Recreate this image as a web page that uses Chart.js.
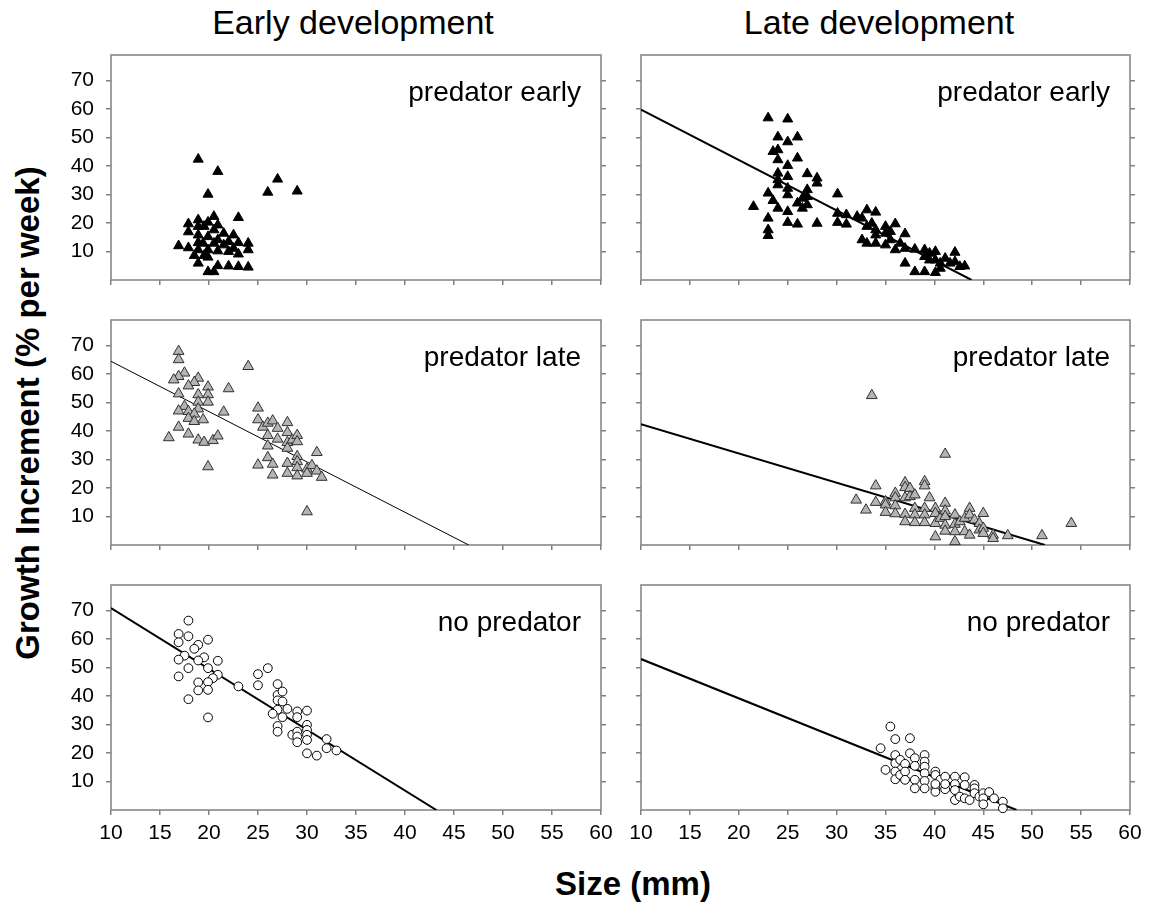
<!DOCTYPE html>
<html>
<head>
<meta charset="utf-8">
<script src="https://cdn.jsdelivr.net/npm/chart.js@4.4.1/dist/chart.umd.min.js"></script>
<style>
  body { margin: 0; background: #fff; width: 1164px; height: 904px; position: relative; overflow: hidden;
         font-family: 'Liberation Sans', Arial, sans-serif; }
  canvas { position: absolute; }
  .t { position: absolute; white-space: nowrap; color: #000; transform: translate(-50%, -50%); }
</style>
</head>
<body>
<div class="t" style="left:353px; top:22px; font-size:34px;">Early development</div>
<div class="t" style="left:879px; top:22px; font-size:34px;">Late development</div>
<div class="t" style="left:28px; top:413px; font-size:33px; font-weight:bold; transform: translate(-50%, -50%) rotate(-90deg);">Growth Increment (% per week)</div>
<div class="t" style="left:633px; top:884px; font-size:33px; font-weight:bold;">Size (mm)</div>

<script>
// axis ticks
const xTicks = [10, 15, 20, 25, 30, 35, 40, 45, 50, 55, 60];
const yTicks = [10, 20, 30, 40, 50, 60, 70];

// early development, predator early (black triangles)
const earlyPredEarlyX = [18.9, 20.9, 19.9, 26.0, 27.0, 29.0, 23.0, 16.9, 17.9, 17.9, 17.9, 18.9, 18.9, 18.9, 18.9, 18.9, 18.5, 18.9, 19.5, 19.5, 19.9, 19.9, 19.9, 19.9, 19.9, 20.5, 20.5, 20.5, 20.5, 20.9, 20.9, 20.9, 20.9, 21.5, 21.5, 22.0, 22.0, 22.0, 22.5, 22.5, 23.0, 23.0, 23.0, 24.0, 24.0, 24.0, 19.4];
const earlyPredEarlyY = [42.4, 38.1, 30.1, 30.8, 35.4, 31.2, 21.9, 12.0, 19.7, 16.9, 11.3, 21.1, 18.8, 15.8, 13.1, 10.6, 8.6, 5.9, 18.8, 8.6, 20.3, 15.2, 10.6, 8.0, 2.9, 22.3, 17.6, 12.9, 2.9, 19.3, 14.1, 10.2, 5.0, 16.4, 12.3, 13.5, 10.0, 4.9, 15.8, 11.1, 13.1, 9.1, 4.7, 12.9, 10.6, 4.5, 12.9];

// late development, predator early (black triangles) + fit
const latePredEarlyX = [23.0, 25.0, 24.0, 26.0, 25.0, 23.5, 24.0, 24.0, 26.0, 25.0, 24.0, 25.0, 24.0, 24.0, 27.0, 28.0, 28.0, 25.0, 25.0, 27.0, 27.0, 26.5, 26.0, 26.5, 27.0, 23.0, 23.5, 24.0, 21.5, 23.0, 23.0, 23.0, 25.0, 25.0, 26.0, 28.0, 30.1, 30.1, 30.1, 31.0, 31.0, 32.1, 32.6, 33.1, 34.0, 33.1, 33.6, 32.6, 33.1, 34.0, 34.0, 34.0, 35.0, 35.0, 35.0, 36.0, 35.5, 35.5, 36.0, 37.0, 37.0, 37.0, 36.5, 38.0, 38.0, 39.0, 39.0, 39.0, 39.5, 40.1, 40.1, 40.1, 40.6, 41.1, 41.6, 42.1, 42.1, 42.6, 43.1, 39.5, 40.6];
const latePredEarlyY = [56.9, 56.5, 50.2, 50.2, 48.5, 45.1, 45.7, 42.2, 42.8, 40.2, 37.5, 36.3, 35.2, 33.4, 37.3, 35.8, 34.0, 32.2, 29.9, 31.7, 29.3, 28.7, 27.0, 25.2, 26.4, 30.5, 27.9, 25.2, 25.8, 21.7, 17.6, 15.6, 24.0, 20.2, 19.6, 19.9, 30.2, 23.4, 20.2, 22.9, 19.6, 22.3, 21.7, 24.6, 23.8, 18.8, 19.9, 14.1, 12.9, 17.6, 15.8, 12.9, 18.8, 16.4, 12.3, 19.7, 17.0, 14.1, 10.6, 16.2, 11.1, 5.9, 12.9, 10.8, 2.9, 10.6, 8.2, 2.9, 9.4, 10.0, 7.0, 2.6, 5.9, 7.6, 5.9, 9.7, 6.4, 4.7, 4.9, 7.0, 4.1];
const latePredEarlyFitX = [10, 43.8];
const latePredEarlyFitY = [59.8, 0];

// early development, predator late (grey triangles) + fit
const earlyPredLateX = [16.9, 16.9, 17.5, 16.9, 16.4, 18.9, 18.5, 17.9, 19.9, 19.9, 19.9, 18.9, 18.9, 16.9, 22.0, 24.0, 17.5, 16.9, 17.9, 18.9, 18.5, 17.9, 18.5, 19.4, 21.5, 16.9, 17.9, 15.9, 18.9, 19.5, 20.4, 20.9, 19.9, 25.0, 25.0, 25.5, 26.0, 26.5, 27.0, 26.0, 27.0, 28.0, 28.0, 28.0, 28.0, 28.5, 29.0, 29.0, 26.0, 26.0, 25.0, 26.5, 26.5, 28.0, 28.0, 29.0, 29.0, 29.0, 29.0, 30.0, 30.0, 30.5, 31.0, 31.0, 31.5, 30.0];
const earlyPredLateY = [68.0, 65.1, 60.4, 59.2, 58.0, 58.6, 57.1, 55.9, 55.5, 52.8, 50.2, 52.8, 50.2, 53.1, 54.9, 62.7, 48.7, 47.1, 46.9, 47.8, 46.0, 44.5, 43.4, 44.0, 46.7, 41.4, 39.0, 37.7, 36.9, 36.1, 36.7, 38.3, 27.5, 48.1, 44.0, 41.4, 42.8, 43.6, 41.0, 38.5, 37.2, 43.0, 39.5, 36.0, 34.0, 36.9, 38.5, 36.3, 34.8, 30.7, 28.1, 28.4, 24.6, 28.7, 25.2, 31.1, 29.3, 27.2, 24.3, 26.7, 25.2, 27.9, 32.5, 26.0, 23.8, 11.7];
const earlyPredLateFitX = [10, 46.5];
const earlyPredLateFitY = [64.5, 0];

// late development, predator late (grey triangles) + fit
const latePredLateX = [33.6, 41.1, 32.0, 33.0, 34.0, 34.0, 35.0, 35.0, 35.0, 36.0, 36.0, 36.0, 36.0, 37.0, 37.0, 37.0, 37.0, 37.0, 37.5, 37.5, 38.0, 38.0, 38.0, 38.0, 39.0, 39.0, 39.0, 39.0, 39.0, 39.5, 40.1, 40.1, 40.1, 40.1, 40.6, 41.1, 41.1, 41.1, 41.1, 41.1, 42.1, 42.1, 42.1, 42.1, 42.6, 43.1, 43.1, 43.6, 43.6, 43.6, 44.1, 44.6, 44.6, 45.0, 45.0, 45.0, 46.0, 46.0, 47.5, 51.0, 54.0];
const latePredLateY = [52.5, 31.9, 15.8, 12.3, 20.8, 15.0, 15.2, 14.1, 11.5, 18.2, 16.6, 13.8, 11.0, 21.9, 20.2, 16.6, 10.8, 8.2, 19.9, 17.0, 17.6, 12.9, 10.6, 7.9, 22.3, 20.8, 12.9, 10.6, 7.9, 16.6, 12.9, 11.1, 7.6, 2.9, 9.4, 14.7, 12.0, 10.0, 7.0, 4.9, 10.6, 7.3, 4.7, 1.2, 8.2, 9.4, 4.7, 12.9, 10.6, 3.5, 8.8, 7.6, 5.3, 11.1, 5.9, 4.1, 3.5, 2.3, 3.3, 3.3, 7.6];
const latePredLateFitX = [10, 51.3];
const latePredLateFitY = [42.4, 0];

// early development, no predator (open circles) + fit
const earlyNoPredX = [17.9, 16.9, 16.9, 17.9, 18.9, 18.5, 19.9, 17.5, 16.9, 19.5, 18.9, 20.9, 17.9, 19.9, 20.9, 20.4, 16.9, 18.9, 19.9, 18.9, 19.9, 17.9, 19.9, 23.0, 25.0, 25.0, 26.0, 27.0, 27.0, 27.5, 27.0, 27.5, 28.0, 27.0, 26.5, 27.5, 29.0, 30.0, 29.0, 30.0, 27.0, 27.0, 28.5, 29.0, 29.0, 29.0, 30.0, 30.0, 30.0, 30.0, 31.0, 32.0, 32.0, 33.0];
const earlyNoPredY = [66.5, 61.8, 58.9, 61.0, 58.0, 56.6, 59.8, 54.2, 52.8, 53.6, 52.5, 52.4, 49.8, 49.8, 47.5, 46.3, 46.9, 44.8, 44.9, 42.0, 42.2, 38.9, 32.5, 43.4, 47.7, 43.8, 49.8, 44.2, 40.4, 41.6, 38.5, 38.1, 35.5, 35.2, 33.8, 32.6, 34.6, 34.9, 32.6, 29.9, 29.5, 27.5, 26.4, 27.5, 25.8, 23.8, 28.1, 26.4, 24.6, 19.9, 19.1, 24.9, 21.7, 20.9];
const earlyNoPredFitX = [10, 43.2];
const earlyNoPredFitY = [70.9, 0];

// late development, no predator (open circles) + fit
const lateNoPredX = [35.5, 36.0, 37.5, 34.5, 35.0, 36.0, 36.0, 36.0, 36.0, 36.5, 36.5, 37.0, 37.0, 37.0, 37.5, 38.0, 38.0, 38.0, 38.0, 39.0, 39.0, 39.0, 39.0, 39.0, 39.0, 40.1, 40.1, 40.1, 40.1, 40.6, 41.1, 41.1, 42.1, 42.1, 42.1, 42.1, 42.6, 43.1, 43.1, 43.1, 43.6, 44.1, 44.1, 44.1, 44.6, 45.0, 45.0, 45.0, 45.6, 46.1, 47.0, 47.0, 40.1, 41.1];
const lateNoPredY = [29.3, 24.9, 25.2, 21.7, 14.1, 19.3, 16.4, 13.5, 10.8, 17.6, 12.3, 16.2, 13.5, 10.6, 19.9, 18.2, 15.5, 10.6, 7.6, 19.3, 17.0, 15.2, 12.9, 10.2, 7.6, 13.5, 12.3, 7.6, 6.4, 10.6, 11.7, 7.3, 11.7, 9.1, 7.0, 3.5, 4.7, 11.5, 8.8, 4.1, 3.5, 8.8, 7.6, 5.9, 4.7, 5.9, 4.1, 2.0, 6.3, 4.1, 2.9, 0.6, 9.1, 9.1];
const lateNoPredFitX = [10, 48.4];
const lateNoPredFitY = [53.0, 0];

const FONT = "'Liberation Sans', Arial, sans-serif";
const FRAME = '#808080';

const pts = (xs, ys) => xs.map((x, i) => ({ x: x, y: ys[i] }));

const markers = {
  black: { pointStyle: 'triangle', pointRadius: 5.8, backgroundColor: '#000', borderColor: '#000', borderWidth: 1 },
  grey: { pointStyle: 'triangle', pointRadius: 6.2, backgroundColor: '#b4b4b4', borderColor: '#303030', borderWidth: 1 },
  open: { pointStyle: 'circle', pointRadius: 4.4, backgroundColor: '#fff', borderColor: '#000', borderWidth: 1 },
};

// grey frame round the plot area
const framePlugin = {
  id: 'frame',
  beforeDatasetsDraw(chart) {
    const a = chart.chartArea, g = chart.ctx;
    g.save();
    g.strokeStyle = FRAME;
    g.lineWidth = 1.5;
    g.strokeRect(a.left, a.top, a.right - a.left, a.bottom - a.top);
    g.restore();
  }
};

// panel label in the top right corner
const tagPlugin = {
  id: 'tag',
  afterDraw(chart, args, opts) {
    const a = chart.chartArea, g = chart.ctx;
    g.save();
    g.font = '28px ' + FONT;
    g.fillStyle = '#000';
    g.textAlign = 'right';
    g.textBaseline = 'middle';
    g.fillText(opts.text, a.right - 20, a.top + 38);
    g.restore();
  }
};

function yAxis(pos, showLabels, width) {
  return {
    type: 'linear', position: pos, min: 0, max: 79,
    afterBuildTicks: s => { s.ticks = yTicks.map(v => ({ value: v })); },
    afterFit: s => { s.width = width; },
    grid: { drawOnChartArea: false, drawTicks: true, tickLength: 5, color: FRAME, lineWidth: 1.5 },
    border: { display: false },
    ticks: { display: showLabels, color: '#000', font: { size: 21, family: FONT }, padding: 12 },
  };
}

function panel(plotLeft, plotTop, plotW, plotH, label, style, xs, ys, fitXs, fitYs, fitWidth, showY, showX) {
  const cv = document.createElement('canvas');
  const w = plotW + 120, h = plotH + 80;
  cv.width = w; cv.height = h;
  cv.style.left = (plotLeft - 100) + 'px';
  cv.style.top = (plotTop - 30) + 'px';
  cv.style.width = w + 'px'; cv.style.height = h + 'px';
  document.body.appendChild(cv);

  const datasets = [Object.assign({ data: pts(xs, ys), order: 1, clip: false }, markers[style])];
  if (fitXs) {
    datasets.push({ data: pts(fitXs, fitYs), showLine: true, pointRadius: 0, borderColor: '#000',
                    borderWidth: fitWidth, order: 2 });
  }

  new Chart(cv, {
    type: 'scatter',
    data: { datasets },
    options: {
      responsive: false, animation: false, devicePixelRatio: 1,
      layout: { padding: 0 },
      plugins: { legend: { display: false }, tooltip: { enabled: false }, tag: { text: label } },
      scales: {
        x: {
          type: 'linear', position: 'bottom', min: 10, max: 60,
          afterBuildTicks: s => { s.ticks = xTicks.map(v => ({ value: v })); },
          afterFit: s => { s.height = 50; },
          grid: { drawOnChartArea: false, drawTicks: true, tickLength: 5, color: FRAME, lineWidth: 1.5 },
          border: { display: false },
          ticks: { display: showX, color: '#000', font: { size: 21, family: FONT }, padding: 6, maxRotation: 0, autoSkip: false },
        },
        // empty top band that takes up the label overflow of the y axis
        xTop: {
          type: 'linear', position: 'top', min: 10, max: 60,
          afterFit: s => { s.height = 30; },
          grid: { display: false }, border: { display: false }, ticks: { display: false },
        },
        y: yAxis('left', showY, 100),
        y2: yAxis('right', false, 20),
      },
    },
    plugins: [framePlugin, tagPlugin],
  });
}

const colL = 111, colR = 641, wL = 490, wR = 489;
const rows = [55, 320, 585], ph = 225;

panel(colL, rows[0], wL, ph, 'predator early', 'black', earlyPredEarlyX, earlyPredEarlyY, null, null, 0, true, false);
panel(colR, rows[0], wR, ph, 'predator early', 'black', latePredEarlyX, latePredEarlyY, latePredEarlyFitX, latePredEarlyFitY, 2, false, false);
panel(colL, rows[1], wL, ph, 'predator late', 'grey', earlyPredLateX, earlyPredLateY, earlyPredLateFitX, earlyPredLateFitY, 1, true, false);
panel(colR, rows[1], wR, ph, 'predator late', 'grey', latePredLateX, latePredLateY, latePredLateFitX, latePredLateFitY, 2, false, false);
panel(colL, rows[2], wL, ph, 'no predator', 'open', earlyNoPredX, earlyNoPredY, earlyNoPredFitX, earlyNoPredFitY, 2, true, true);
panel(colR, rows[2], wR, ph, 'no predator', 'open', lateNoPredX, lateNoPredY, lateNoPredFitX, lateNoPredFitY, 2, false, true);
</script>
</body>
</html>
